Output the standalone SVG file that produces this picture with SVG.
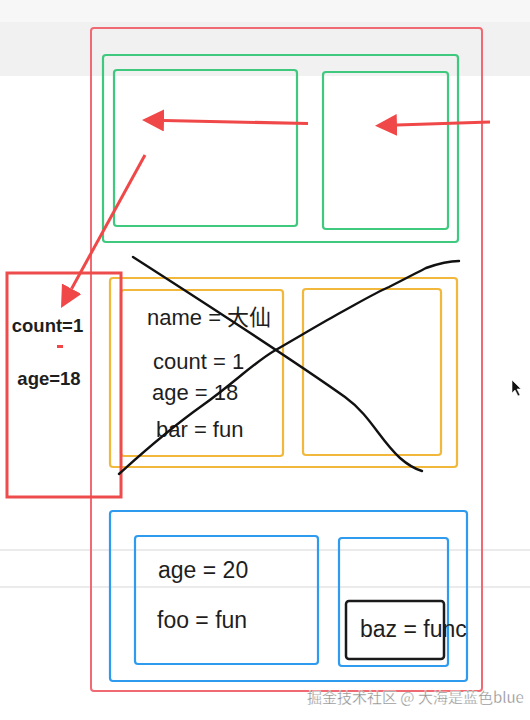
<svg xmlns="http://www.w3.org/2000/svg" width="530" height="720" viewBox="0 0 530 720">
<style>
.box{fill:none;stroke-width:2}
.red{stroke:#f06a73}
.green{stroke:#3ec97e;stroke-width:2.2}
.yellow{stroke:#f2b83c;stroke-width:2.2}
.blue{stroke:#2f9bef;stroke-width:2.2}
.t{font-family:"Liberation Sans","Noto Sans CJK SC",sans-serif;font-size:22px;fill:#1e1e1e}
.tb{font-family:"Liberation Sans",sans-serif;font-size:18.5px;font-weight:bold;fill:#1e1e1e}
.arrow{stroke:#f04848;stroke-width:3;fill:none}
.x{stroke:#111;stroke-width:2.4;fill:none;stroke-linecap:round;stroke-linejoin:round}
</style>
<defs>
<marker id="ah" markerUnits="userSpaceOnUse" markerWidth="24" markerHeight="24" refX="0" refY="11" orient="auto">
<path d="M0,0 L22,11 L0,22 z" fill="#f04848"/>
</marker>
</defs>
<rect width="530" height="720" fill="#ffffff"/>
<rect x="0" y="0" width="530" height="22" fill="#f7f7f7"/>
<rect x="0" y="22" width="530" height="54" fill="#f1f1f1"/>
<line x1="0" y1="550" x2="530" y2="550" stroke="#e4e4e4" stroke-width="1.5"/>
<line x1="0" y1="587" x2="530" y2="587" stroke="#e4e4e4" stroke-width="1.5"/>

<g id="outer-red"><rect class="box red" x="91" y="28" width="391" height="663" rx="3"/></g>

<g id="green-outer"><rect class="box green" x="103" y="55" width="355" height="187" rx="3"/></g>
<g id="green-left"><rect class="box green" x="114" y="70" width="183" height="156" rx="3"/></g>
<g id="green-right"><rect class="box green" x="323" y="72" width="125" height="157" rx="3"/></g>

<g id="yellow-outer"><rect class="box yellow" x="110" y="278" width="347" height="189" rx="3"/></g>
<g id="yellow-left">
<rect class="box yellow" x="121" y="290" width="162" height="166" rx="3"/>
<text class="t" x="147" y="325">name = 大仙</text>
<text class="t" x="153" y="369">count = 1</text>
<text class="t" x="152" y="400">age = 18</text>
<text class="t" x="156" y="437">bar = fun</text>
</g>
<g id="yellow-right"><rect class="box yellow" x="303" y="289" width="138" height="166" rx="3"/></g>

<g id="blue-outer"><rect class="box blue" x="110" y="511" width="357" height="170" rx="3"/></g>
<g id="blue-left">
<rect class="box blue" x="135" y="536" width="183" height="128" rx="3"/>
<text class="t" x="158" y="578" style="font-size:23px">age = 20</text>
<text class="t" x="157" y="628" style="font-size:23px">foo = fun</text>
</g>
<g id="blue-right"><rect class="box blue" x="339" y="538" width="109" height="128" rx="3"/></g>
<g id="baz-box">
<rect x="346" y="601" width="98" height="58" rx="3" fill="none" stroke="#1a1a1a" stroke-width="2.5"/>
<text class="t" x="360" y="637" style="font-size:23px">baz = func</text>
</g>

<g id="scope-box">
<rect x="7" y="273" width="114" height="224" fill="none" stroke="#ee4c4c" stroke-width="3"/>
<text class="tb" x="47.5" y="332" text-anchor="middle">count=1</text>
<rect x="57" y="345" width="6" height="3" fill="#f04848"/>
<text class="tb" x="49" y="385" text-anchor="middle">age=18</text>
</g>

<g id="cross-out">
<path class="x" d="M133,257 C200,300 300,365 345,397 C370,415 380,440 400,458 C408,465 415,469 422,471"/>
<path class="x" d="M119,474 C140,455 165,432 203,405 C230,386 255,362 274,351 C300,336 320,324 338,314 C360,302 375,293 389,287 C405,279 420,271 426,268 C440,263 450,261 459,261"/>
</g>

<g id="connectors">
<line class="arrow" x1="308" y1="123.5" x2="164" y2="120.5" marker-end="url(#ah)"/>
<line class="arrow" x1="490" y1="122" x2="397" y2="125" marker-end="url(#ah)"/>
<line class="arrow" x1="145" y1="155" x2="71.6" y2="288.7" marker-end="url(#ah)"/>
</g>

<g id="cursor">
<path d="M512,380 L512,393 L515,390 L518,396 L520,395 L517,389 L521,389 z" fill="#111" stroke="#fff" stroke-width="0.6"/>
</g>

<text x="307" y="703" font-family="'Noto Sans CJK SC',sans-serif" font-size="15" fill="#8a8a8a" stroke="#ffffff" stroke-width="0.3">掘金技术社区 @ 大海是蓝色blue</text>
</svg>
